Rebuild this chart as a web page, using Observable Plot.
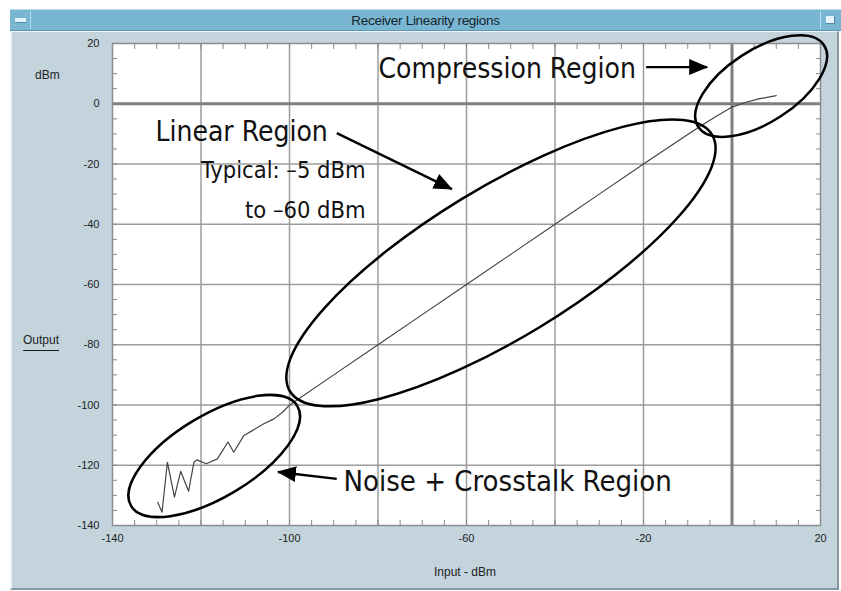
<!DOCTYPE html>
<html><head><meta charset="utf-8">
<script src="https://cdn.jsdelivr.net/npm/d3@7"></script>
<script src="https://cdn.jsdelivr.net/npm/@observablehq/plot@0.6"></script>
<style>
body{margin:0;background:#fff;width:841px;height:591px;position:relative;overflow:hidden;font-family:"Liberation Sans",Arial,sans-serif}
#titlebar{position:absolute;left:10px;top:9px;width:831px;height:22px;background:#79b6d1;border-top:1px solid #b5dcec;border-bottom:1px solid #5a97b3;box-sizing:border-box}
#titlebar .t{position:absolute;left:0;right:0;top:3px;text-align:center;font-size:13.5px;color:#15252e;letter-spacing:-0.3px}
#btnL{position:absolute;left:1px;top:1px;width:20px;height:18px;border-right:1px solid #b5dcec;box-sizing:border-box}
#btnL::after{content:"";position:absolute;left:4px;top:7px;width:11px;height:4px;background:#e4f3fa;border-bottom:1px solid #4f8aa6}
#btnR{position:absolute;right:1px;top:1px;width:20px;height:18px;border-left:1px solid #b5dcec;box-sizing:border-box}
#btnR::after{content:"";position:absolute;left:5px;top:5px;width:8px;height:7px;background:#e4f3fa;border-right:1px solid #4f8aa6;border-bottom:1px solid #4f8aa6}
#panel{position:absolute;left:10px;top:31px;width:829px;height:559px;background:#c4d4dd;border-left:2px solid #eef4f7;border-top:1px solid #eef4f7;border-bottom:2px solid #8796a0;border-right:2px solid #8796a0;box-sizing:border-box}
#chart{position:absolute;left:0;top:30px}
.lab{position:absolute;font-size:12px;color:#1e1e1e;white-space:nowrap}
</style></head>
<body>
<div id="titlebar"><div id="btnL"></div><div class="t">Receiver Linearity regions</div><div id="btnR"></div></div>
<div id="panel"></div>
<div id="chart"></div>
<div class="lab" style="left:35px;top:68px">dBm</div>
<div class="lab" style="left:23px;top:333px;border-bottom:1.5px solid #1e1e1e;padding-bottom:3px">Output</div>
<div class="lab" style="left:0;width:930px;text-align:center;top:565px">Input - dBm</div>
<script>
// ---- data ----
const inputDbm  = [-129.8,-128.8,-127.6,-126.0,-124.6,-122.8,-121.6,-120.9,-118.8,-116.3,-113.9,-112.6,-110.3,-108.4,-105.8,-103.5,-101.6,-99.8,-90,-80,-70,-60,-50,-40,-30,-20,-10,-7,-4,-2,0,3,6,10];
const outputDbm = [-132.3,-135.6,-119.0,-130.6,-122.0,-128.6,-119.0,-118.2,-119.5,-117.9,-112.3,-115.7,-110.1,-108.5,-106.2,-104.6,-102.4,-99.8,-90,-80,-70,-60,-50,-40,-30,-20,-10.2,-7.3,-4.6,-2.8,-1.1,0.4,1.6,2.7];
const xTickLabels = [-140,-100,-60,-20,20];
const yTickLabels = [20,0,-20,-40,-60,-80,-100,-120,-140];
const gridValues  = [-120,-100,-80,-60,-40,-20];
const minorTicks  = d3.range(-135,20,5);

// annotations
const annoText   = ["Compression Region","Linear Region","Typical: \u20135 dBm","to \u201360 dBm","Noise + Crosstalk Region"];
const annoX      = [-79.9,-130.3,-82.8,-82.8,-87.8];
const annoY      = [8.5,-12.2,-24.8,-37.8,-128.7];
const annoAlign  = ["start","start","end","end","start"];
const annoSize   = [28,28,23.5,23.5,29];
const ellipseCx  = [-52.1,-116.9,6.7];
const ellipseCy  = [-53.0,-117.1,5.7];
const ellipseRx  = [247,97,75];
const ellipseRy  = [75,41,36];
const ellipseRot = [31.3,31,33];
const arrowX1 = [-89.2,-19.3,-89.2];
const arrowY1 = [-9.9,12.0,-124.7];
const arrowX2 = [-63.2,-5.5,-102.5];
const arrowY2 = [-28.5,12.0,-122.4];

const series = inputDbm.map((x,i)=>({x, y: outputDbm[i]}));
const annos = annoText.map((t,i)=>({t, x:annoX[i], y:annoY[i], a:annoAlign[i], s:annoSize[i]}));
const condensed = "'DejaVu Sans Condensed','DejaVu Sans',sans-serif";
const tickStroke = "#8a8a8a";

const plot = Plot.plot({
  width: 841, height: 560,
  marginLeft: 112, marginRight: 21, marginTop: 13, marginBottom: 65,
  style: {background: "transparent", fontFamily: "'Liberation Sans',Arial,sans-serif", fontSize: "11px", color: "#222", overflow: "visible"},
  x: {domain: [-140, 20]},
  y: {domain: [-140, 20]},
  marks: [
    Plot.frame({fill: "white", stroke: null}),
    Plot.ruleX(gridValues, {stroke: "#9c9c9c", strokeWidth: 1.5}),
    Plot.ruleY(gridValues, {stroke: "#9c9c9c", strokeWidth: 1.5}),
    Plot.ruleX([0], {stroke: "#7e7e7e", strokeWidth: 3}),
    Plot.ruleY([0], {stroke: "#7e7e7e", strokeWidth: 3}),
    Plot.axisX(minorTicks, {anchor: "bottom", tickSize: -5, tickFormat: () => "", stroke: tickStroke, label: null}),
    Plot.axisX(minorTicks, {anchor: "top", tickSize: -5, tickFormat: () => "", stroke: tickStroke, label: null}),
    Plot.axisY(minorTicks, {anchor: "left", tickSize: -5, tickFormat: () => "", stroke: tickStroke, label: null}),
    Plot.axisY(minorTicks, {anchor: "right", tickSize: -5, tickFormat: () => "", stroke: tickStroke, label: null}),
    Plot.axisX(xTickLabels, {anchor: "bottom", tickSize: 0, tickPadding: 9, label: null, tickFormat: d => String(d)}),
    Plot.axisY(yTickLabels, {anchor: "left", tickSize: 0, tickPadding: 13, label: null, tickFormat: d => String(d)}),
    Plot.frame({stroke: "#8c8c8c", strokeWidth: 1.5}),
    Plot.line(series, {x: "x", y: "y", stroke: "#444", strokeWidth: 1.2}),
    Plot.text(annos.filter(d => d.a === "start"), {x: "x", y: "y", text: "t", textAnchor: "start", fontSize: d => d.s, lineAnchor: "bottom", fill: "#111", fontFamily: condensed}),
    Plot.text(annos.filter(d => d.a === "end"), {x: "x", y: "y", text: "t", textAnchor: "end", fontSize: d => d.s, lineAnchor: "bottom", fill: "#111", fontFamily: condensed})
  ]
});
document.getElementById("chart").appendChild(plot);

const sx = plot.scale("x"), sy = plot.scale("y");
const svg = d3.select(plot).attr("overflow", "visible");
const g = svg.append("g");
ellipseCx.forEach((cx, i) => {
  const px = sx.apply(cx), py = sy.apply(ellipseCy[i]);
  g.append("ellipse").attr("cx", px).attr("cy", py).attr("rx", ellipseRx[i]).attr("ry", ellipseRy[i])
    .attr("transform", `rotate(${-ellipseRot[i]} ${px} ${py})`)
    .attr("fill", "none").attr("stroke", "#000").attr("stroke-width", 2.5);
});
svg.append("defs").append("marker").attr("id", "ah").attr("markerUnits", "userSpaceOnUse")
  .attr("viewBox", "0 -9 19 18").attr("refX", 18).attr("refY", 0).attr("markerWidth", 19).attr("markerHeight", 18)
  .attr("orient", "auto").append("path").attr("d", "M0,-8L19,0L0,8Z").attr("fill", "#000");
arrowX1.forEach((x1, i) => {
  g.append("line").attr("x1", sx.apply(x1)).attr("y1", sy.apply(arrowY1[i]))
    .attr("x2", sx.apply(arrowX2[i])).attr("y2", sy.apply(arrowY2[i]))
    .attr("stroke", "#000").attr("stroke-width", 2.4).attr("marker-end", "url(#ah)");
});
</script>
</body></html>
